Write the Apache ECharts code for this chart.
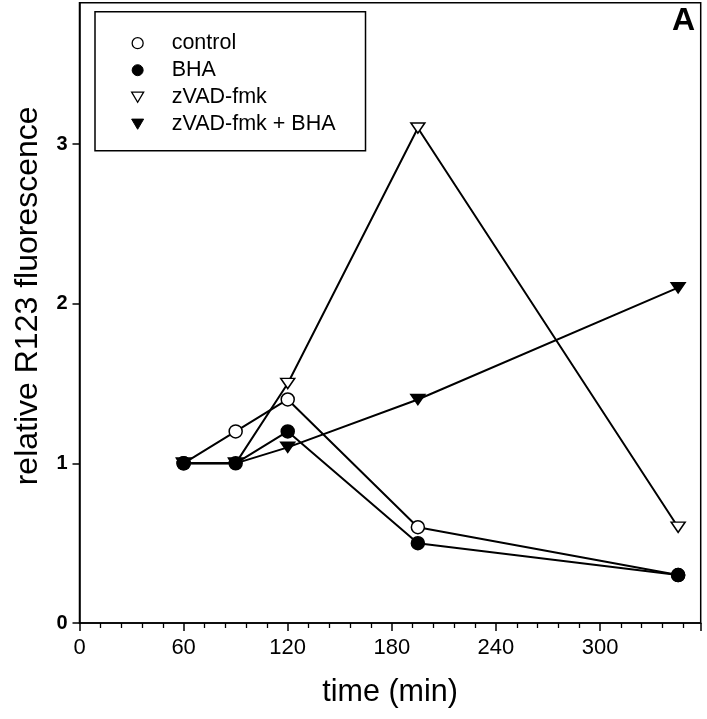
<!DOCTYPE html>
<html>
<head>
<meta charset="utf-8">
<script src="https://cdn.jsdelivr.net/npm/echarts@6/dist/echarts.min.js"></script>
<style>
html,body{margin:0;padding:0;background:#fff;}
#chart{width:707px;height:719px;}
</style>
</head>
<body>
<div id="chart"></div>
<script>
var times = [60, 90, 120, 195, 345];
var control = [1.0, 1.2, 1.4, 0.6, 0.3];
var bha = [1.0, 1.0, 1.2, 0.5, 0.3];
var zvad = [1.0, 1.0, 1.5, 3.1, 0.6];
var zvadBha = [1.0, 1.0, 1.1, 1.4, 2.1];
var seriesNames = ['control', 'BHA', 'zVAD-fmk', 'zVAD-fmk + BHA'];
var xTicks = [0, 60, 120, 180, 240, 300];
var yTicks = [0, 1, 2, 3];

var FONT = 'Liberation Sans, Arial, Helvetica, sans-serif';
var TRI_DOWN = 'path://M0,0L13,0L6.5,11Z';

function pts(vals){ return times.map(function(t,i){ return [t, vals[i]]; }); }

function mk(name, vals, symbol, filled, size){
  return {
    name: name, type: 'line', data: pts(vals),
    symbol: symbol, symbolSize: size, symbolKeepAspect: true,
    showAllSymbol: true,
    lineStyle: {color: '#000', width: 2},
    itemStyle: {color: filled ? '#000' : '#fff', borderColor: '#000', borderWidth: 1.5, opacity: 1},
    emphasis: {disabled: true},
    animation: false
  };
}

var chart = echarts.init(document.getElementById('chart'), null, {renderer: 'canvas'});
chart.setOption({
  backgroundColor: '#fff',
  animation: false,
  textStyle: {fontFamily: FONT},
  grid: {left: 79.5, right: 6.3, top: 2.7, bottom: 96, show: true, borderColor: '#000', borderWidth: 1.5, backgroundColor: 'transparent'},
  legend: {
    orient: 'vertical', left: 95, top: 11.7,
    padding: [20.5, 30, 15.5, 36],
    borderColor: '#000', borderWidth: 1.5,
    itemWidth: 12, itemHeight: 11, itemGap: 5,
    selectedMode: false,
    textStyle: {fontFamily: FONT, fontSize: 21.5, color: '#000', lineHeight: 22, padding: [0, 0, 0, 23]},
    data: [
      {name: seriesNames[0], icon: 'circle', itemStyle: {color: '#fff', borderColor: '#000', borderWidth: 1.3}},
      {name: seriesNames[1], icon: 'circle', itemStyle: {color: '#000', borderColor: '#000', borderWidth: 1}},
      {name: seriesNames[2], icon: TRI_DOWN, itemStyle: {color: '#fff', borderColor: '#000', borderWidth: 1.3}},
      {name: seriesNames[3], icon: TRI_DOWN, itemStyle: {color: '#000', borderColor: '#000', borderWidth: 1}}
    ]
  },
  xAxis: {
    type: 'value', min: 0, max: 358, interval: 60,
    name: 'time (min)', nameLocation: 'middle', nameGap: 54,
    nameTextStyle: {fontFamily: FONT, fontSize: 30.5, color: '#000'},
    axisLine: {show: true, onZero: false, lineStyle: {color: '#000', width: 1.5}},
    axisTick: {show: true, inside: false, length: 8, lineStyle: {color: '#000', width: 1.5}},
    minorTick: {show: true, splitNumber: 5, length: 5, lineStyle: {color: '#000', width: 1.3}},
    splitLine: {show: false},
    axisLabel: {fontFamily: FONT, fontSize: 22, color: '#000', margin: 14, showMaxLabel: false,
      formatter: function(v){ return xTicks.indexOf(v) >= 0 ? String(v) : ''; }}
  },
  yAxis: {
    type: 'value', min: 0, max: 3.885, interval: 1,
    name: 'relative R123 fluorescence', nameLocation: 'middle', nameGap: 35, nameRotate: 90,
    nameTextStyle: {fontFamily: FONT, fontSize: 32, color: '#000', padding: [0, 0, 0, 34]},
    axisLine: {show: true, onZero: false, lineStyle: {color: '#000', width: 1.5}},
    axisTick: {show: true, inside: false, length: 7, lineStyle: {color: '#000', width: 1.5}},
    splitLine: {show: false},
    axisLabel: {fontFamily: FONT, fontSize: 20, fontWeight: 'bold', color: '#000', margin: 12, showMaxLabel: false,
      formatter: function(v){ return yTicks.indexOf(v) >= 0 ? String(v) : ''; }}
  },
  graphic: [{
    type: 'text', right: 12, top: 5,
    style: {text: 'A', fontFamily: FONT, fontSize: 32, fontWeight: 'bold', fill: '#000'}
  }],
  series: [
    mk(seriesNames[0], control, 'circle', false, 13),
    mk(seriesNames[1], bha, 'circle', true, 13),
    mk(seriesNames[2], zvad, TRI_DOWN, false, [14, 12]),
    mk(seriesNames[3], zvadBha, TRI_DOWN, true, [14, 12])
  ]
});
</script>
</body>
</html>
